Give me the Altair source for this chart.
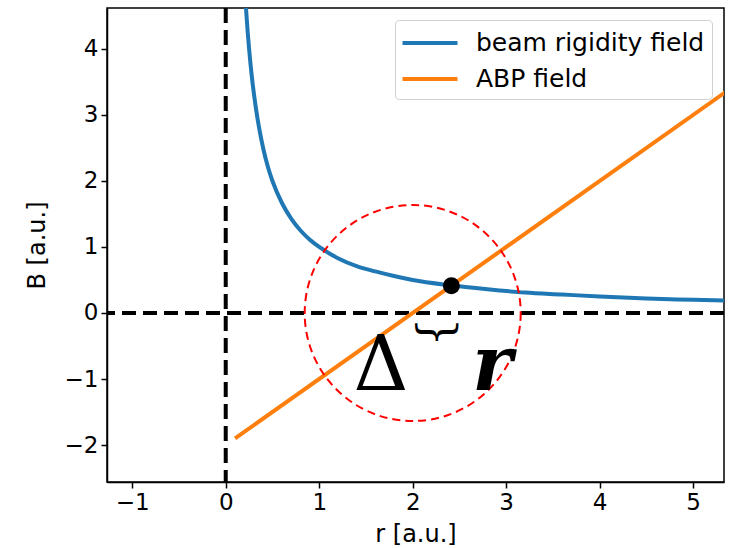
import altair as alt
import pandas as pd

# Beam rigidity field B ~ 1/r, sampled along r
rigidity_r = [0.2, 0.22, 0.25, 0.28, 0.32, 0.36, 0.4, 0.45, 0.5, 0.6, 0.7, 0.8, 0.9,
              1.0, 1.2, 1.4, 1.6, 1.8, 2.0, 2.4, 2.8, 3.2, 3.6, 4.0, 4.5, 5.0, 5.4]
rigidity_b = [5.0, 4.55, 4.0, 3.57, 3.13, 2.78, 2.5, 2.22, 2.0, 1.67, 1.43, 1.25, 1.11,
              1.0, 0.83, 0.71, 0.63, 0.56, 0.5, 0.42, 0.36, 0.31, 0.28, 0.25, 0.22, 0.2, 0.185]

# ABP field: straight line
abp_r = [0.1, 5.4]
abp_b = [-1.9, 3.4]

series_names = ["beam rigidity field", "ABP field"]
series_colors = ["#1f77b4", "#ff7f0e"]

# Crossing point and the circle around the zero of the ABP field
cross_r, cross_b = [2.414], [0.414]
circle_r, circle_b = [2.0], [0.0]

# Axis settings
x_domain = [-1.27, 5.33]
y_domain = [-2.56, 4.62]
x_ticks = [-1, 0, 1, 2, 3, 4, 5]
y_ticks = [-2, -1, 0, 1, 2, 3, 4]

lines_df = pd.concat([
    pd.DataFrame({"r": rigidity_r, "B": rigidity_b, "field": series_names[0]}),
    pd.DataFrame({"r": abp_r, "B": abp_b, "field": series_names[1]}),
])

x_scale = alt.Scale(domain=x_domain, nice=False, zero=False)
y_scale = alt.Scale(domain=y_domain, nice=False, zero=False)

x_axis = alt.Axis(values=x_ticks, title="r [a.u.]", grid=False, format="d")
y_axis = alt.Axis(values=y_ticks, title="B [a.u.]", grid=False, format="d")

# Wide, flat legend swatch: a horizontal segment twice the symbol box width
swatch = "M-2,0L2,0"

lines = alt.Chart(lines_df).mark_line(strokeWidth=4, clip=True, interpolate="monotone").encode(
    x=alt.X("r:Q", scale=x_scale, axis=x_axis),
    y=alt.Y("B:Q", scale=y_scale, axis=y_axis),
    color=alt.Color(
        "field:N",
        scale=alt.Scale(domain=series_names, range=series_colors),
        sort=series_names,
        legend=alt.Legend(
            title=None,
            orient="top-right",
            offset=12,
            symbolType=swatch,
            symbolSize=756,
            symbolStrokeWidth=4,
            symbolOffset=12,
            labelFontSize=25,
            labelFont="DejaVu Sans",
            labelColor="black",
            labelOffset=30,
            rowPadding=7,
            padding=7,
            strokeColor="#d0d0d0",
            fillColor="white",
            cornerRadius=4,
            labelLimit=400,
        ),
    ),
    order=alt.value(0),
)

hline = alt.Chart(pd.DataFrame({"B": [0]})).mark_rule(
    color="black", strokeWidth=4, strokeDash=[14, 7]
).encode(y=alt.Y("B:Q", scale=y_scale))

vline = alt.Chart(pd.DataFrame({"r": [0]})).mark_rule(
    color="black", strokeWidth=4, strokeDash=[15, 7]
).encode(x=alt.X("r:Q", scale=x_scale))

ring = alt.Chart(pd.DataFrame({"r": circle_r, "B": circle_b})).mark_point(
    shape="circle", size=216 ** 2, filled=False, color="red",
    strokeWidth=2, strokeDash=[8, 5], opacity=1,
).encode(x=alt.X("r:Q", scale=x_scale), y=alt.Y("B:Q", scale=y_scale))

dot = alt.Chart(pd.DataFrame({"r": cross_r, "B": cross_b})).mark_point(
    shape="circle", size=289, filled=True, color="black", opacity=1,
).encode(x=alt.X("r:Q", scale=x_scale), y=alt.Y("B:Q", scale=y_scale))

# Brace under the gap between the zero crossing and the intersection
brace = alt.Chart(pd.DataFrame({"r": [2.26], "B": [-0.29], "t": ["}"]})).mark_text(
    angle=90, fontSize=46, font="DejaVu Serif", color="black",
    align="center", baseline="middle",
).encode(x=alt.X("r:Q", scale=x_scale), y=alt.Y("B:Q", scale=y_scale), text="t:N")

delta = alt.Chart(pd.DataFrame({"r": [1.66], "B": [-1.17], "t": ["Δ"]})).mark_text(
    fontSize=76, font="DejaVu Serif", color="black",
    align="center", baseline="alphabetic",
).encode(x=alt.X("r:Q", scale=x_scale), y=alt.Y("B:Q", scale=y_scale), text="t:N")

r_sym = alt.Chart(pd.DataFrame({"r": [2.85], "B": [-1.17], "t": ["r"]})).mark_text(
    fontSize=76, font="DejaVu Serif", fontWeight="bold", fontStyle="italic", color="black",
    align="center", baseline="alphabetic",
).encode(x=alt.X("r:Q", scale=x_scale), y=alt.Y("B:Q", scale=y_scale), text="t:N")

chart = alt.layer(vline, hline, lines, ring, dot, brace, delta, r_sym).properties(
    width=617,
    height=474,
    autosize=alt.AutoSizeParams(type="none"),
    padding={"left": 107, "top": 8, "right": 12, "bottom": 66},
    background="white",
).configure_view(
    stroke="black", strokeWidth=1.5
).configure_axis(
    labelFont="DejaVu Sans",
    titleFont="DejaVu Sans",
    labelFontSize=23,
    titleFontSize=24,
    labelColor="black",
    titleColor="black",
    titleFontWeight="normal",
    domainColor="black",
    domainWidth=1.5,
    tickColor="black",
    tickWidth=1.5,
    tickSize=6,
    labelPadding=3,
).configure_axisX(titlePadding=8).configure_axisY(titlePadding=15)

chart.save("out.html", embed_options={"renderer": "svg", "actions": False})
